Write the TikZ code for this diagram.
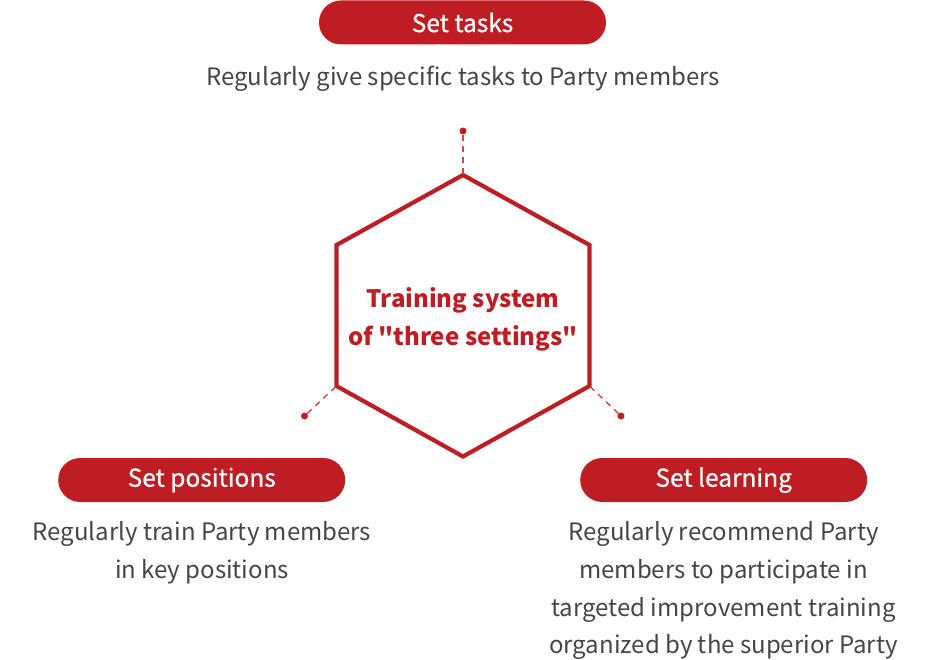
\documentclass[tikz,border=0pt]{standalone}
\usepackage{fontspec}
\setmainfont{Noto Sans CJK SC}
\newfontfamily\hexfont[Ligatures=TeXOff]{Noto Sans CJK SC}
\newfontfamily\pillfont[FakeBold=0.6]{Noto Sans CJK SC}
\definecolor{cred}{HTML}{BE1E23}
\definecolor{dred}{HTML}{D0454A}
\definecolor{tgray}{HTML}{454545}
\begin{document}
\begin{tikzpicture}[x=1pt,y=-1pt,
  pill/.style={fill=cred,draw=none,rounded corners=22pt,minimum width=287pt,minimum height=44pt,inner sep=0pt,text=white,font=\pillfont\fontsize{24.5}{28}\selectfont},
  desc/.style={text=tgray,align=center,font=\fontsize{24}{37.7}\selectfont,inner sep=0pt},
  conn/.style={draw=dred,line width=1.4pt,dash pattern=on 6pt off 5pt},
  dotc/.style={circle,fill=cred,minimum size=7pt,inner sep=0pt}]
\useasboundingbox (0,0) rectangle (944,660);
% hexagon vertices
\coordinate (ht) at (463,175);
\coordinate (hur) at (589.5,245);
\coordinate (hlr) at (589.5,386);
\coordinate (hb) at (463,456.5);
\coordinate (hll) at (336.5,386);
\coordinate (hul) at (336.5,245);
\draw[cred,line width=4.2pt,line join=miter] (ht) -- (hur) -- (hlr) -- (hb) -- (hll) -- (hul) -- cycle;
\node[text=cred,align=center,font=\hexfont\bfseries\fontsize{24}{38}\selectfont,inner sep=0pt] (center) at (463,319.5) {Training system\\of "three settings"};
% dots
\node[dotc] (dt) at (463,131) {};
\node[dotc] (dl) at (304.5,416) {};
\node[dotc] (dr) at (621,416) {};
\draw[conn] (dt) -- (ht);
\draw[conn] (dl) -- (hll);
\draw[conn] (dr) -- (hlr);
% pills
\node[pill] (p1) at (462.5,22.5) {Set tasks};
\node[pill] (p2) at (201.7,480) {Set positions};
\node[pill] (p3) at (723.7,480) {Set learning};
% descriptions
\node[desc,anchor=north] (d1) at (463,66) {Regularly give specific tasks to Party members};
\node[desc,anchor=north] (d2) at (202,521.5) {Regularly train Party members\\in key positions};
\node[desc,anchor=north] (d3) at (723.5,521.5) {Regularly recommend Party\\members to participate in\\targeted improvement training\\organized by the superior Party};
\end{tikzpicture}
\end{document}
